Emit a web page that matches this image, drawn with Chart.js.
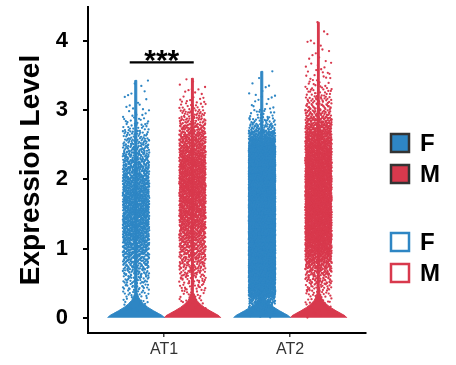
<!DOCTYPE html>
<html><head><meta charset="utf-8">
<script src="https://cdn.jsdelivr.net/npm/chart.js@4/dist/chart.umd.min.js"></script>
<style>html,body{margin:0;padding:0;background:#fff}</style>
</head><body>
<canvas id="c" width="456" height="365"></canvas>
<script>
// ---------- data ----------
const categories = ['AT1', 'AT2'];
const groups = ['F', 'M'];
const yTicks = [0, 1, 2, 3, 4];
// lower edge of each 0.1-wide expression bin
const binLow = [0.0,0.1,0.2,0.3,0.4,0.5,0.6,0.7,0.8,0.9,1.0,1.1,1.2,1.3,1.4,1.5,1.6,1.7,1.8,1.9,2.0,2.1,2.2,2.3,2.4,2.5,2.6,2.7,2.8,2.9,3.0,3.1,3.2,3.3,3.4,3.5,3.6,3.7,3.8,3.9,4.0,4.1,4.2];
// cells per bin (read from the dot density of each column)
const countsAT1F = [0,12,15,18,25,32,40,48,58,70,80,88,95,100,104,105,105,100,96,92,86,78,70,60,48,38,27,19,12,8,5,3,3,2,1,0,0,0,0,0,0,0,0];
const countsAT1M = [0,8,12,15,20,26,34,42,50,57,64,72,80,88,95,100,106,110,114,115,115,112,106,98,90,78,66,52,38,27,17,10,5,3,2,0,0,0,0,0,0,0,0];
const countsAT2F = [10,35,80,160,220,270,300,300,300,300,300,300,300,300,300,300,300,300,300,300,300,300,290,270,230,170,100,50,26,13,7,5,4,3,1,1,0,0,0,0,0,0,0];
const countsAT2M = [5,9,13,20,28,40,55,75,95,115,130,142,150,152,154,155,155,155,154,152,150,148,145,138,130,118,102,84,65,47,35,26,19,13,9,7,5,4,3,3,2,1,1];
// maximum expression of each violin
const violinTop = [3.43, 3.46, 3.56, 4.27]; // AT1 F, AT1 M, AT2 F, AT2 M
// violin density profile near zero (levels, relative half-width)
const skirtLevels = [0, 0.03, 0.06, 0.10, 0.15, 0.20, 0.25, 0.30, 0.35, 0.45];
const skirtDensity = [0.225, 0.21, 0.18, 0.14, 0.095, 0.06, 0.035, 0.02, 0.012, 0.008];
const tailDensity = 0.006;
const legendLabels = ['F', 'M', 'F', 'M'];
const sigLabel = '***';
const sigLevel = 3.69;

// ---------- styles ----------
const colors = { F: '#2e86c4', M: '#d8394d' };
const groupOffset = [-0.222, 0.226];
const jitterHalf = 0.105;
const FONT = "'Liberation Sans', Arial, Helvetica, sans-serif";
Chart.defaults.font.family = FONT;

// Halton low-discrepancy placement of cells inside each bin (no randomness)
function halton(i, base) {
  let f = 1, r = 0;
  while (i > 0) { f /= base; r += f * (i % base); i = Math.floor(i / base); }
  return r;
}

const seriesCounts = [countsAT1F, countsAT1M, countsAT2F, countsAT2M];
const datasets = [];

seriesCounts.forEach((counts, s) => {
  const cat = Math.floor(s / 2), grp = s % 2;
  const center = cat + 1 + groupOffset[grp];
  const color = colors[groups[grp]];
  const top = violinTop[s];
  // violin outline
  const lv = skirtLevels.concat([top]);
  const hw = skirtDensity.concat([tailDensity]);
  const poly = [];
  for (let i = 0; i < lv.length; i++) poly.push({ x: center + hw[i], y: lv[i] });
  for (let i = lv.length - 1; i >= 0; i--) poly.push({ x: center - hw[i], y: lv[i] });
  datasets.push({
    type: 'line', label: categories[cat] + ' ' + groups[grp] + ' violin', data: poly,
    borderColor: color, backgroundColor: color, borderWidth: 1, pointRadius: 0,
    fill: 'shape', tension: 0, order: 2
  });
  // jittered cells
  const pts = [];
  let k = 1 + s * 2999;
  counts.forEach((n, b) => {
    for (let j = 0; j < n; j++, k++) {
      const u = halton(k, 2), v = halton(k, 3);
      pts.push({ x: center + (2 * u - 1) * jitterHalf, y: Math.min(binLow[b] + v * 0.1, top) });
    }
  });
  datasets.push({
    type: 'scatter', label: categories[cat] + ' ' + groups[grp], data: pts,
    backgroundColor: color, borderWidth: 0, pointRadius: 1.15, order: 1
  });
});

const overlay = {
  id: 'overlay',
  afterDraw(chart) {
    const ctx = chart.ctx, xs = chart.scales.x, ys = chart.scales.y;
    // significance bar
    const x1 = xs.getPixelForValue(1 + groupOffset[0] - 0.05);
    const x2 = xs.getPixelForValue(1 + groupOffset[1] + 0.01);
    const yb = ys.getPixelForValue(sigLevel);
    ctx.save();
    ctx.strokeStyle = '#000'; ctx.lineWidth = 2.2;
    ctx.beginPath(); ctx.moveTo(x1, yb); ctx.lineTo(x2, yb); ctx.stroke();
    ctx.fillStyle = '#000'; ctx.font = 'bold 30px ' + FONT;
    ctx.textAlign = 'center'; ctx.textBaseline = 'alphabetic';
    ctx.fillText(sigLabel, (x1 + x2) / 2, yb + 8);
    // legend
    const ys0 = [143, 174, 242, 273];
    ctx.font = 'bold 24px ' + FONT; ctx.textAlign = 'left'; ctx.textBaseline = 'middle';
    legendLabels.forEach((lab, i) => {
      const col = colors[lab];
      const filled = i < 2;
      const y = ys0[i];
      ctx.lineWidth = 2.5;
      if (filled) { ctx.fillStyle = col; ctx.fillRect(391, y - 9, 18, 18); ctx.strokeStyle = '#333'; }
      else { ctx.fillStyle = '#fff'; ctx.fillRect(391, y - 9, 18, 18); ctx.strokeStyle = col; }
      ctx.strokeRect(391, y - 9, 18, 18);
      ctx.fillStyle = '#000';
      ctx.fillText(lab, 420, y + 1);
    });
    ctx.restore();
  }
};

new Chart(document.getElementById('c'), {
  type: 'scatter',
  data: { datasets },
  options: {
    responsive: false, animation: false, devicePixelRatio: 1, events: [],
    layout: { padding: { left: 0, right: 90, top: 7, bottom: 0 } },
    plugins: { legend: { display: false }, tooltip: { enabled: false } },
    scales: {
      x: {
        type: 'linear', min: 0.397, max: 2.603,
        afterFit: s => { s.height = 32; s.paddingLeft = 0; s.paddingRight = 0; },
        afterBuildTicks: s => { s.ticks = categories.map((c, i) => ({ value: i + 1 })); },
        ticks: { autoSkip: false, color: '#333', font: { size: 16 }, padding: 3,
                 callback: v => categories[Math.round(v) - 1] },
        grid: { display: true, drawOnChartArea: false, drawTicks: true, tickLength: 4, color: '#444', lineWidth: 1.5 },
        border: { display: true, color: '#000', width: 2 }
      },
      y: {
        type: 'linear', min: -0.22, max: 4.49,
        afterFit: s => { s.width = 88; s.paddingTop = 0; s.paddingBottom = 0; },
        afterBuildTicks: s => { s.ticks = yTicks.map(v => ({ value: v })); },
        ticks: { color: '#000', font: { size: 22, weight: 'bold' }, padding: 15 },
        grid: { display: true, drawOnChartArea: false, drawTicks: true, tickLength: 5, color: '#000', lineWidth: 2 },
        border: { display: true, color: '#000', width: 2 },
        title: { display: true, text: 'Expression Level', color: '#000',
                 font: { size: 28, weight: 'bold' }, padding: { top: 14, bottom: 0 } }
      }
    }
  },
  plugins: [overlay]
});
</script>
</body></html>
